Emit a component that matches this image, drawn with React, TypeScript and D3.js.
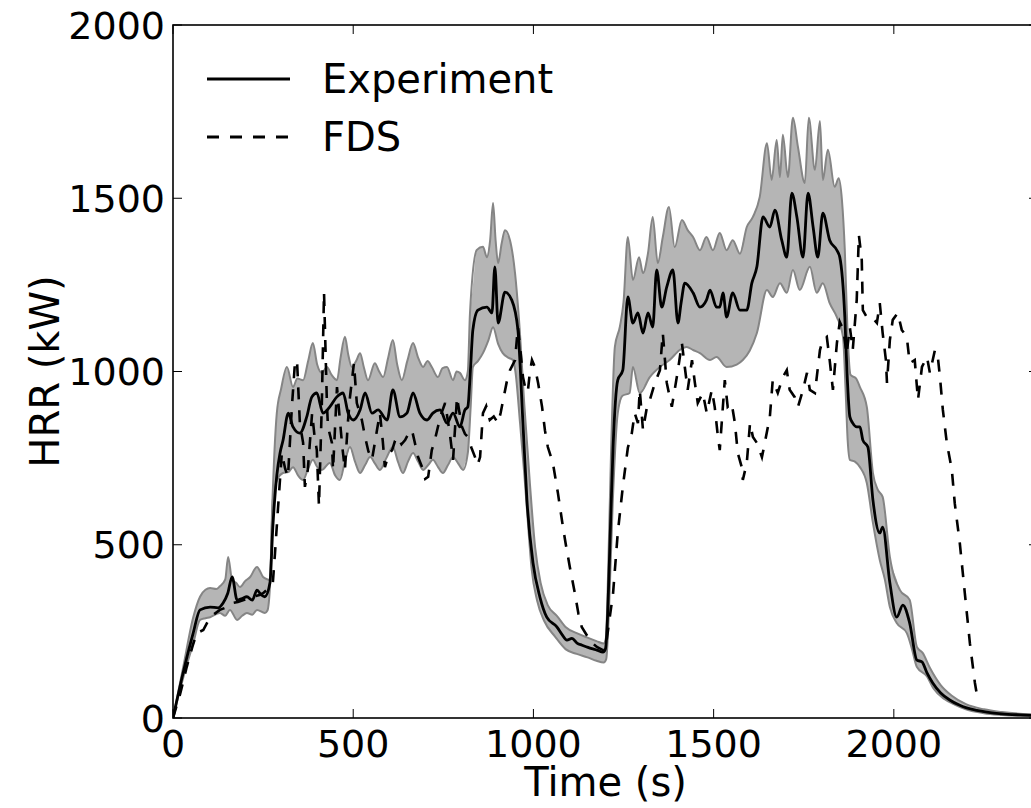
import React from "react";
import * as d3 from "d3";

// ---- Data (time in s, HRR in kW) ----
const expTime = [0, 28, 56, 75, 103, 125, 139, 152, 164, 178, 192, 205, 220, 233, 245, 255, 269, 277, 288, 297, 305, 320, 333, 352, 371, 385, 399, 416, 435, 454, 472, 486, 500, 519, 533, 552, 569, 594, 610, 630, 649, 666, 685, 705, 721, 741, 760, 777, 796, 810, 818, 825, 832, 846, 871, 885, 893, 902, 921, 940, 957, 971, 982, 999, 1018, 1037, 1065, 1080, 1093, 1107, 1121, 1135, 1148, 1162, 1176, 1193, 1200, 1206, 1212, 1221, 1234, 1248, 1262, 1276, 1290, 1304, 1318, 1331, 1342, 1356, 1370, 1387, 1401, 1410, 1420, 1443, 1462, 1480, 1490, 1508, 1517, 1526, 1536, 1553, 1573, 1592, 1606, 1620, 1637, 1656, 1670, 1689, 1703, 1717, 1731, 1748, 1762, 1776, 1789, 1803, 1822, 1842, 1850, 1864, 1870, 1878, 1886, 1897, 1906, 1914, 1928, 1942, 1961, 1969, 1989, 2008, 2025, 2044, 2064, 2078, 2092, 2108, 2130, 2155, 2180, 2202, 2230, 2258, 2300, 2350, 2400];
const expMean = [0, 130, 245, 312, 320, 318, 332, 360, 407, 340, 345, 350, 340, 369, 355, 350, 390, 551, 700, 765, 800, 880, 840, 822, 869, 926, 938, 880, 898, 926, 938, 880, 860, 889, 938, 880, 889, 860, 947, 869, 880, 938, 880, 860, 880, 889, 851, 880, 840, 889, 898, 1000, 1120, 1177, 1186, 1169, 1302, 1140, 1229, 1206, 1120, 850, 629, 447, 349, 291, 263, 240, 225, 230, 216, 210, 205, 200, 196, 190, 200, 300, 493, 782, 975, 1004, 1215, 1140, 1169, 1111, 1169, 1128, 1293, 1186, 1244, 1293, 1140, 1200, 1255, 1227, 1186, 1206, 1235, 1186, 1186, 1227, 1157, 1227, 1177, 1177, 1255, 1302, 1446, 1417, 1466, 1379, 1330, 1515, 1446, 1330, 1515, 1417, 1330, 1457, 1379, 1350, 1330, 1157, 1000, 869, 851, 840, 840, 802, 782, 629, 534, 551, 390, 291, 326, 274, 167, 162, 130, 101, 72, 52, 38, 29, 22, 17, 12, 9, 7];

const upperTime = [0, 28, 56, 75, 90, 103, 120, 130, 145, 153, 164, 175, 186, 200, 214, 233, 250, 262, 269, 275, 288, 300, 316, 333, 345, 361, 375, 388, 400, 413, 427, 440, 455, 465, 477, 486, 496, 508, 519, 530, 541, 560, 572, 583, 597, 610, 622, 635, 650, 666, 680, 694, 706, 718, 735, 748, 760, 777, 787, 796, 810, 818, 824, 843, 860, 871, 880, 888, 895, 902, 912, 921, 935, 949, 960, 975, 990, 1005, 1020, 1040, 1065, 1090, 1120, 1150, 1175, 1195, 1201, 1208, 1215, 1226, 1240, 1250, 1262, 1276, 1293, 1304, 1318, 1331, 1345, 1359, 1376, 1392, 1412, 1428, 1443, 1462, 1480, 1498, 1517, 1536, 1553, 1573, 1592, 1609, 1628, 1648, 1661, 1675, 1684, 1692, 1706, 1720, 1734, 1753, 1764, 1781, 1795, 1803, 1817, 1836, 1847, 1856, 1864, 1872, 1880, 1895, 1906, 1925, 1942, 1955, 1969, 1989, 2017, 2044, 2064, 2080, 2100, 2130, 2160, 2200, 2250, 2300, 2400];
const upperVal = [0, 145, 290, 350, 370, 375, 372, 380, 400, 465, 398, 390, 378, 395, 407, 436, 407, 400, 398, 600, 880, 950, 1013, 955, 980, 975, 1030, 1082, 1020, 996, 1013, 990, 975, 1040, 1100, 1050, 1013, 1030, 1053, 1010, 975, 1024, 1000, 984, 1040, 1091, 1020, 975, 1030, 1082, 1040, 1013, 1030, 1013, 984, 1010, 1013, 975, 1000, 996, 975, 1000, 1169, 1351, 1360, 1330, 1380, 1486, 1380, 1313, 1370, 1408, 1379, 1284, 1150, 900, 680, 490, 390, 325, 295, 262, 245, 232, 222, 215, 230, 450, 750, 1071, 1130, 1200, 1388, 1264, 1330, 1284, 1342, 1446, 1313, 1388, 1475, 1359, 1437, 1408, 1388, 1350, 1388, 1350, 1400, 1350, 1379, 1340, 1417, 1446, 1504, 1659, 1553, 1668, 1561, 1683, 1561, 1732, 1648, 1544, 1732, 1582, 1723, 1553, 1640, 1533, 1558, 1495, 1350, 1100, 990, 980, 955, 898, 707, 660, 638, 465, 369, 341, 205, 188, 145, 95, 65, 40, 25, 17, 10];

const lowerTime = [0, 28, 56, 75, 90, 103, 130, 145, 158, 178, 192, 205, 220, 233, 255, 262, 270, 277, 290, 305, 320, 333, 347, 361, 375, 388, 400, 413, 435, 450, 463, 477, 491, 505, 519, 533, 547, 560, 574, 592, 610, 624, 638, 652, 666, 680, 694, 708, 721, 735, 749, 763, 777, 791, 805, 818, 826, 832, 846, 860, 875, 888, 902, 915, 930, 943, 950, 963, 975, 985, 995, 1010, 1030, 1060, 1090, 1120, 1150, 1175, 1195, 1202, 1210, 1220, 1234, 1247, 1267, 1276, 1295, 1323, 1351, 1378, 1406, 1425, 1443, 1462, 1490, 1508, 1536, 1564, 1581, 1600, 1620, 1648, 1664, 1684, 1703, 1720, 1739, 1767, 1786, 1803, 1822, 1842, 1859, 1866, 1872, 1878, 1892, 1906, 1925, 1942, 1961, 1975, 1989, 2008, 2036, 2050, 2064, 2092, 2110, 2140, 2170, 2200, 2250, 2300, 2400];
const lowerVal = [0, 115, 215, 283, 288, 291, 303, 295, 312, 283, 295, 303, 298, 312, 303, 310, 400, 629, 690, 707, 710, 724, 700, 687, 720, 745, 725, 716, 736, 700, 687, 740, 782, 740, 707, 730, 753, 735, 716, 750, 782, 740, 707, 740, 765, 740, 716, 730, 745, 725, 707, 730, 753, 735, 716, 765, 900, 1013, 1030, 1053, 1090, 1128, 1080, 1053, 1040, 1033, 1000, 850, 700, 560, 430, 340, 280, 235, 198, 185, 175, 165, 160, 170, 320, 620, 880, 930, 938, 1013, 938, 984, 1013, 1033, 1062, 1071, 1062, 1053, 1033, 1042, 1013, 1020, 1033, 1060, 1111, 1235, 1215, 1255, 1227, 1293, 1235, 1302, 1227, 1255, 1197, 1157, 1100, 950, 800, 745, 740, 724, 678, 563, 456, 400, 320, 274, 245, 200, 147, 120, 85, 55, 38, 25, 14, 9, 5];

const fdsTime = [0, 20, 38, 55, 66, 84, 103, 130, 150, 164, 180, 194, 210, 222, 240, 250, 269, 277, 283, 291, 302, 311, 319, 330, 338, 344, 352, 361, 366, 374, 386, 392, 399, 405, 413, 419, 427, 430, 441, 444, 455, 463, 470, 477, 485, 491, 502, 510, 524, 533, 542, 552, 566, 574, 582, 588, 598, 608, 616, 624, 634, 644, 653, 663, 672, 680, 694, 700, 708, 718, 726, 735, 745, 755, 768, 777, 788, 795, 802, 810, 818, 828, 838, 845, 852, 860, 869, 879, 890, 902, 909, 916, 926, 935, 949, 957, 963, 971, 980, 985, 990, 996, 1004, 1013, 1024, 1032, 1040, 1054, 1068, 1082, 1090, 1101, 1115, 1125, 1134, 1151, 1165, 1176, 1193, 1200, 1207, 1221, 1234, 1248, 1262, 1273, 1281, 1290, 1295, 1304, 1315, 1323, 1337, 1351, 1359, 1370, 1384, 1392, 1401, 1412, 1420, 1428, 1440, 1448, 1456, 1470, 1481, 1495, 1503, 1512, 1517, 1531, 1539, 1550, 1559, 1567, 1578, 1581, 1592, 1601, 1609, 1620, 1634, 1642, 1656, 1664, 1678, 1692, 1703, 1711, 1725, 1734, 1748, 1759, 1767, 1781, 1795, 1803, 1814, 1822, 1831, 1842, 1850, 1860, 1869, 1878, 1886, 1897, 1903, 1911, 1914, 1925, 1939, 1953, 1961, 1969, 1978, 1981, 1989, 1997, 2011, 2022, 2036, 2044, 2058, 2067, 2078, 2092, 2100, 2114, 2122, 2128, 2136, 2147, 2161, 2169, 2183, 2197, 2211, 2225, 2233];
const fdsVal = [0, 70, 147, 210, 245, 254, 291, 312, 320, 332, 335, 340, 345, 350, 355, 360, 378, 390, 476, 600, 765, 720, 696, 900, 1020, 1033, 851, 794, 667, 716, 880, 820, 773, 612, 909, 1229, 909, 840, 794, 716, 955, 860, 780, 716, 850, 926, 1024, 909, 860, 811, 770, 745, 831, 880, 800, 724, 760, 773, 800, 811, 790, 802, 820, 831, 790, 753, 716, 690, 696, 773, 800, 840, 880, 909, 822, 745, 926, 880, 840, 820, 811, 780, 753, 730, 753, 880, 900, 860, 870, 851, 880, 918, 970, 1004, 1033, 1128, 1071, 984, 940, 947, 996, 1033, 1013, 967, 898, 830, 782, 736, 649, 551, 500, 436, 360, 300, 263, 234, 215, 205, 196, 200, 254, 360, 534, 667, 780, 822, 880, 851, 947, 831, 898, 918, 967, 1004, 1111, 967, 898, 947, 1004, 1082, 1013, 947, 1033, 967, 909, 938, 880, 947, 898, 811, 773, 975, 898, 909, 851, 765, 724, 687, 736, 851, 811, 794, 753, 794, 869, 975, 938, 984, 1004, 947, 926, 898, 947, 996, 947, 938, 1062, 1091, 1100, 1033, 947, 1082, 1143, 1120, 1050, 1128, 1062, 1206, 1394, 1322, 1177, 1157, 1157, 1140, 1197, 1111, 1033, 967, 1091, 1149, 1169, 1120, 1100, 1024, 1033, 918, 1013, 1042, 996, 1062, 1042, 984, 889, 794, 716, 620, 505, 360, 216, 101, 52];

const xTicks = [0, 500, 1000, 1500, 2000];
const yTicks = [0, 500, 1000, 1500, 2000];
const legendLabels = ["Experiment", "FDS"];

const W = 1031;
const H = 808;
const M = { left: 173, top: 25, right: 1038, bottom: 718 };
const FONT = "'DejaVu Sans', sans-serif";

export default function App() {
  const x = d3.scaleLinear().domain([0, 2400]).range([M.left, M.right]);
  const y = d3.scaleLinear().domain([0, 2000]).range([M.bottom, M.top]);

  const smooth = d3
    .line<[number, number]>()
    .x((d) => x(d[0]))
    .y((d) => y(d[1]))
    .curve(d3.curveMonotoneX);
  const straight = d3
    .line<[number, number]>()
    .x((d) => x(d[0]))
    .y((d) => y(d[1]));
  const area = d3
    .area<[number, number, number]>()
    .x((d) => x(d[0]))
    .y0((d) => y(d[2]))
    .y1((d) => y(d[1]))
    .curve(d3.curveMonotoneX);

  const zip = (t: number[], v: number[]) => t.map((ti, i) => [ti, v[i]] as [number, number]);
  const upperPts = zip(upperTime, upperVal);
  const lowerPts = zip(lowerTime, lowerVal);
  // common time grid for the filled band: union of both edge time points
  const grid = Array.from(new Set([...upperTime, ...lowerTime])).sort((a, b) => a - b);
  const interpU = d3.scaleLinear().domain(upperTime).range(upperVal);
  const interpL = d3.scaleLinear().domain(lowerTime).range(lowerVal);
  const bandPts = grid.map((t) => [t, interpU(t), interpL(t)] as [number, number, number]);
  const bandPath = area(bandPts) || "";
  const meanPath = smooth(zip(expTime, expMean)) || "";
  const fdsPath = straight(zip(fdsTime, fdsVal)) || "";
  const upperPath = smooth(upperPts) || "";
  const lowerPath = smooth(lowerPts) || "";

  const tickLen = 9;

  return (
    <div style={{ position: "absolute", left: 0, top: 0, width: W, height: H, background: "#fff" }}>
      <svg width={W} height={H} style={{ display: "block" }}>
        <defs>
          <clipPath id="plotclip">
            <rect x={M.left} y={M.top} width={M.right - M.left} height={M.bottom - M.top} />
          </clipPath>
        </defs>
        <rect x={0} y={0} width={W} height={H} fill="#fff" />
        <g clipPath="url(#plotclip)">
          <path d={bandPath} fill="#b5b5b5" stroke="none" />
          <path d={upperPath} fill="none" stroke="#858585" strokeWidth={2} />
          <path d={lowerPath} fill="none" stroke="#858585" strokeWidth={2} />
          <path d={meanPath} fill="none" stroke="#000" strokeWidth={2.8} strokeLinejoin="round" />
          <path d={fdsPath} fill="none" stroke="#000" strokeWidth={2.6} strokeDasharray="12,11" />
        </g>
        {/* spines */}
        <rect x={M.left} y={M.top} width={M.right - M.left} height={M.bottom - M.top} fill="none" stroke="#000" strokeWidth={1.6} />
        {/* ticks */}
        {xTicks.map((t) => (
          <g key={"xt" + t}>
            <line x1={x(t)} x2={x(t)} y1={M.bottom} y2={M.bottom - tickLen} stroke="#000" strokeWidth={1} />
            <line x1={x(t)} x2={x(t)} y1={M.top} y2={M.top + tickLen} stroke="#000" strokeWidth={1} />
            <text x={x(t)} y={757} textAnchor="middle" fontFamily={FONT} fontSize={38} fill="#000">
              {t}
            </text>
          </g>
        ))}
        {yTicks.map((t) => (
          <g key={"yt" + t}>
            <line x1={M.left} x2={M.left + tickLen} y1={y(t)} y2={y(t)} stroke="#000" strokeWidth={1} />
            <line x1={M.right} x2={M.right - tickLen} y1={y(t)} y2={y(t)} stroke="#000" strokeWidth={1} />
            <text x={165} y={y(t)} dy="0.36em" textAnchor="end" fontFamily={FONT} fontSize={38} fill="#000">
              {t}
            </text>
          </g>
        ))}
        {/* axis labels */}
        <text x={(M.left + M.right) / 2} y={796} textAnchor="middle" fontFamily={FONT} fontSize={40} fill="#000">
          Time (s)
        </text>
        <text
          transform={`translate(59, ${(M.top + M.bottom) / 2}) rotate(-90)`}
          textAnchor="middle"
          fontFamily={FONT}
          fontSize={40}
          fill="#000"
        >
          HRR (kW)
        </text>
        {/* legend */}
        <line x1={207} x2={290} y1={79} y2={79} stroke="#000" strokeWidth={3} />
        <text x={322} y={79} dy="0.36em" fontFamily={FONT} fontSize={40} fill="#000">
          {legendLabels[0]}
        </text>
        <line x1={207} x2={290} y1={137} y2={137} stroke="#000" strokeWidth={3} strokeDasharray="12,11" />
        <text x={322} y={137} dy="0.36em" fontFamily={FONT} fontSize={40} fill="#000">
          {legendLabels[1]}
        </text>
      </svg>
    </div>
  );
}
